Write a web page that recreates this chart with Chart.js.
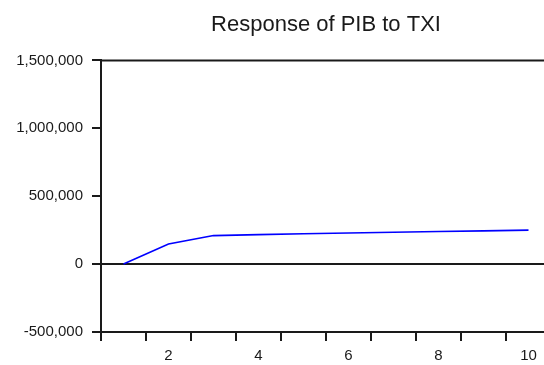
<!DOCTYPE html>
<html>
<head>
<meta charset="utf-8">
<script src="https://cdn.jsdelivr.net/npm/chart.js@4"></script>
<style>
  html, body { margin: 0; padding: 0; background: #fff; overflow: hidden; }
  #wrap { width: 544px; height: 365px; overflow: hidden; }
</style>
</head>
<body>
<div id="wrap"><canvas id="irf" width="560" height="365"></canvas></div>
<script>
// periods after the shock
const periods = ['1', '2', '3', '4', '5', '6', '7', '8', '9', '10'];
// response of PIB to a TXI shock
const response = [0, 148000, 210000, 217000, 223000, 229000, 235000, 240000, 245000, 250000];
const yTicks = [-500000, 0, 500000, 1000000, 1500000];

const ink = '#1a1a1a';
const font = "'Liberation Sans', Arial, sans-serif";

// top and right edges of the box
const frame = {
    id: 'frame',
    afterDraw(chart) {
        const a = chart.chartArea;
        const ctx = chart.ctx;
        ctx.save();
        ctx.strokeStyle = ink;
        ctx.lineWidth = 2;
        ctx.beginPath();
        ctx.moveTo(a.left, a.top);
        ctx.lineTo(a.right, a.top);
        ctx.lineTo(a.right, a.bottom);
        ctx.stroke();
        ctx.restore();
    }
};

new Chart(document.getElementById('irf').getContext('2d'), {
    type: 'line',
    data: {
        labels: periods,
        datasets: [{
            data: response,
            borderColor: '#0000ff',
            borderWidth: 1.6,
            pointRadius: 0,
            tension: 0,
            fill: false
        }]
    },
    options: {
        responsive: false,
        animation: false,
        devicePixelRatio: 1,
        layout: { padding: { left: 0, right: 9, top: 0, bottom: 0 } },
        plugins: {
            legend: { display: false },
            tooltip: { enabled: false },
            title: {
                display: true,
                fullSize: false,
                text: 'Response of PIB to TXI',
                color: ink,
                font: { family: font, size: 22, weight: 'normal' },
                padding: { top: 12, bottom: 22 }
            }
        },
        scales: {
            x: {
                type: 'category',
                offset: true,
                border: { display: true, color: ink, width: 2 },
                grid: {
                    offset: true,
                    drawOnChartArea: false,
                    tickLength: 9,
                    tickColor: ink,
                    lineWidth: 2
                },
                ticks: {
                    color: ink,
                    font: { family: font, size: 15 },
                    padding: 6,
                    maxRotation: 0,
                    autoSkip: false,
                    callback: function(v, i) {
                        const lab = periods[i];
                        return Number(lab) % 2 === 0 ? lab : '';
                    }
                },
                afterFit: s => { s.height = 33; }
            },
            y: {
                min: yTicks[0],
                max: yTicks[yTicks.length - 1],
                afterBuildTicks: s => { s.ticks = yTicks.map(v => ({ value: v })); },
                border: { display: true, color: ink, width: 2 },
                grid: {
                    color: c => (c.tick && c.tick.value === 0) ? ink : 'rgba(0,0,0,0)',
                    tickColor: ink,
                    tickLength: 9,
                    lineWidth: 2
                },
                ticks: {
                    color: ink,
                    font: { family: font, size: 15 },
                    padding: 9,
                    callback: v => v.toLocaleString('en-US')
                },
                afterFit: s => { s.width = 101; }
            }
        }
    },
    plugins: [frame]
});
</script>
</body>
</html>
